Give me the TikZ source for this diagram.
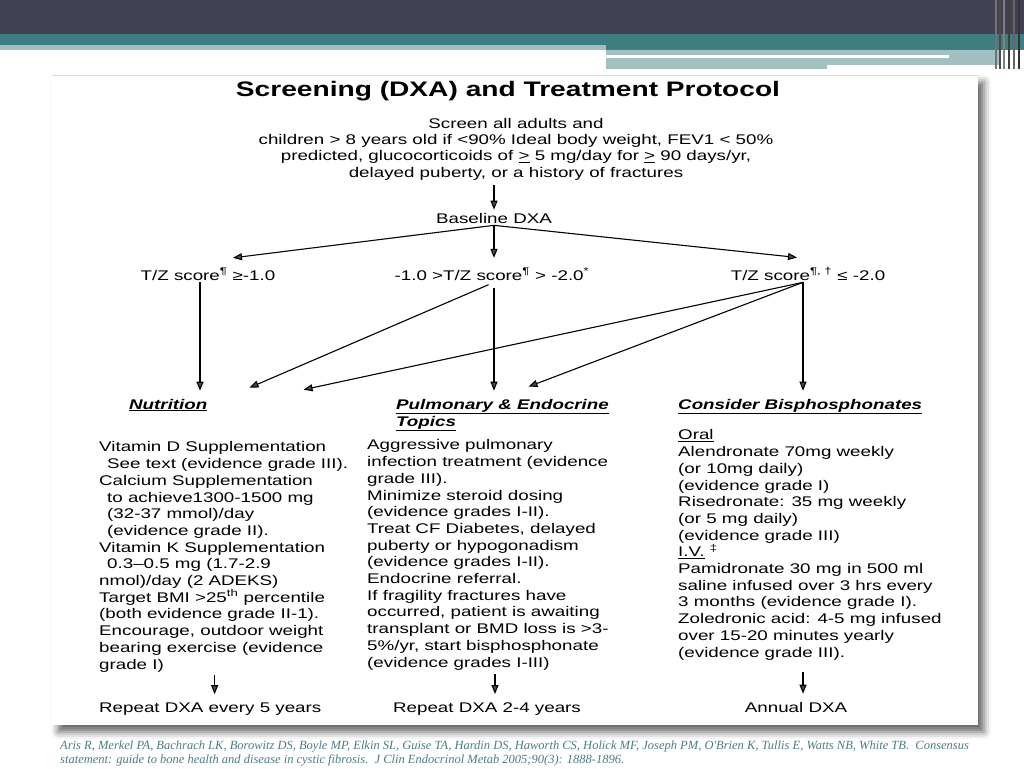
\documentclass[tikz,border=0pt]{standalone}
\usepackage{fontspec}
\usepackage{xcolor}
\usetikzlibrary{arrows.meta, positioning, shadows.blur}
\newfontfamily\diagfont[FakeStretch=1.34]{Liberation Sans}
\newfontfamily\citefont{Liberation Serif}
\definecolor{slidedark}{HTML}{414153}
\definecolor{slideteal}{HTML}{3F7E80}
\definecolor{slidelight}{HTML}{A2BFC1}
\definecolor{citecol}{HTML}{4A7C82}

\begin{document}
\begin{tikzpicture}[
  x=1pt, y=-1pt,
  txt/.style={inner sep=2pt, align=left, anchor=base west,
              font=\diagfont\fontsize{14}{16.7}\selectfont},
  lbl/.style={inner sep=2pt, align=center, anchor=base,
              font=\diagfont\fontsize{14}{16.2}\selectfont},
  head/.style={txt, font=\diagfont\bfseries\itshape\fontsize{14}{17}\selectfont},
  arr/.style={-{Triangle[length=9pt, width=7pt]}, line width=1.1pt}
]
\useasboundingbox (0,0) rectangle (1024,768);

% slide background
\fill[slidedark] (0,0) rectangle (1024,34);
\fill[slideteal] (0,34) rectangle (1024,45);
\fill[slidelight] (0,45) rectangle (606,50);
\fill[slideteal] (606,45) rectangle (1024,50);
\fill[slidelight] (606,50) rectangle (1000,69);
\fill[white] (606,55) rectangle (949,58);
\fill[white] (827,65) rectangle (1000,69);
\foreach \xx/\gg in {996/55, 1000/70, 1004/50, 1009/75, 1014/60, 1019/80}
  \draw[black!\gg, line width=1.2pt] (\xx,0) -- (\xx,69);

% the pasted figure
\fill[white, blur shadow={shadow xshift=6pt, shadow yshift=-7pt,
  shadow blur radius=7pt, shadow opacity=60}] (52,75) rectangle (978,725);
\draw[black!15] (52,75) -- (978,75);

% top part (base of a multi-line node = its last line)
\node[lbl, font=\diagfont\bfseries\fontsize{21}{25}\selectfont] (title) at (508,96)
  {Screening (DXA) and Treatment Protocol};
\node[lbl] (screen) at (516,177)
  {Screen all adults and\\
   children > 8 years old if <90\% Ideal body weight, FEV1 < 50\%\\
   predicted, glucocorticoids of \underline{>} 5 mg/day for \underline{>} 90 days/yr,\\
   delayed puberty, or a history of fractures};
\node[lbl] (baseline) at (494,223) {Baseline DXA};

\node[lbl] (tzlow) at (208,280) {T/Z score\textsuperscript{¶} ≥-1.0};
\node[lbl] (tzmid) at (492,280) {-1.0 >T/Z score\textsuperscript{¶} > -2.0\textsuperscript{*}};
\node[lbl] (tzhigh) at (808,280) {T/Z score\textsuperscript{¶, †} ≤ -2.0};

% headings
\node[head] (hnutr) at (127,409) {\underline{Nutrition}};
\node[head] (hpulm) at (394,426) {\underline{Pulmonary \& Endocrine}\\\underline{Topics}};
\node[head] (hbis) at (676,409) {\underline{Consider Bisphosphonates}};

% columns
\node[txt] (txtnutr) at (97,669)
  {Vitamin D Supplementation\\
   \hspace*{8pt}See text (evidence grade III).\\
   Calcium Supplementation\\
   \hspace*{8pt}to achieve1300-1500 mg\\
   \hspace*{8pt}(32-37 mmol)/day\\
   \hspace*{8pt}(evidence grade II).\\
   Vitamin K Supplementation\\
   \hspace*{8pt}0.3–0.5 mg (1.7-2.9\\
   nmol)/day (2 ADEKS)\\
   Target BMI >25\textsuperscript{th} percentile\\
   (both evidence grade II-1).\\
   Encourage, outdoor weight\\
   bearing exercise (evidence\\
   grade I)};
\node[txt] (txtpulm) at (365,667)
  {Aggressive pulmonary\\
   infection treatment (evidence\\
   grade III).\\
   Minimize steroid dosing\\
   (evidence grades I-II).\\
   Treat CF Diabetes, delayed\\
   puberty or hypogonadism\\
   (evidence grades I-II).\\
   Endocrine referral.\\
   If fragility fractures have\\
   occurred, patient is awaiting\\
   transplant or BMD loss is >3-\\
   5\%/yr, start bisphosphonate\\
   (evidence grades I-III)};
\node[txt] (txtbis) at (676,657)
  {\underline{Oral}\\
   Alendronate 70mg weekly\\
   (or 10mg daily)\\
   (evidence grade I)\\
   Risedronate: 35 mg weekly\\
   (or 5 mg daily)\\
   (evidence grade III)\\
   \underline{I.V.} \textsuperscript{‡}\\
   Pamidronate 30 mg in 500 ml\\
   saline infused over 3 hrs every\\
   3 months (evidence grade I).\\
   Zoledronic acid: 4-5 mg infused\\
   over 15-20 minutes yearly\\
   (evidence grade III).};

% follow-up
\node[txt] (repnutr) at (97,712) {Repeat DXA every 5 years};
\node[lbl] (reppulm) at (487,712) {Repeat DXA 2-4 years};
\node[lbl] (repbis) at (796,712) {Annual DXA};

% connectors
\draw[arr, shorten <=3pt, shorten >=1pt] (screen.south -| baseline) -- (baseline.north);
\draw[arr] (baseline.south) -- ([shift={(25pt,8pt)}]tzlow.north);
\draw[arr] (baseline.south) -- ([shift={(2pt,8pt)}]tzmid.north);
\draw[arr] (baseline.south) -- ([shift={(-11pt,8pt)}]tzhigh.north);

\draw[arr, shorten >=6pt] ([xshift=-8pt]tzlow.south) -- ([xshift=-8pt]tzlow.south |- hnutr.north);
\draw[arr, shorten <=6pt, shorten >=6pt] ([xshift=2pt]tzmid.south) -- ([xshift=2pt]tzmid.south |- hpulm.north);
\draw[arr, shorten <=6pt] ([xshift=2pt]tzmid.south) -- ([shift={(40pt,9pt)}]hnutr.north east);
\draw[arr, shorten >=6pt] ([xshift=-5pt]tzhigh.south) -- ([xshift=-5pt]tzhigh.south |- hbis.north);
\draw[arr] ([xshift=-5pt]tzhigh.south) -- ([shift={(26pt,10pt)}]hpulm.north);
\draw[arr] ([xshift=-5pt]tzhigh.south) -- ([shift={(94pt,7pt)}]hnutr.north east);

\draw[arr, shorten <=1pt, shorten >=6pt] ([xshift=-9pt]txtnutr.south) -- ([xshift=-9pt]txtnutr.south |- repnutr.north);
\draw[arr, shorten <=2pt, shorten >=6pt] ([xshift=8pt]reppulm.north |- txtpulm.south) -- ([xshift=8pt]reppulm.north);
\draw[arr, shorten <=10pt, shorten >=6pt] ([xshift=7pt]repbis.north |- txtbis.south) -- ([xshift=7pt]repbis.north);

% reference
\node[inner sep=0pt, anchor=base west, align=left, text=citecol,
      font=\citefont\itshape\fontsize{12.5}{14}\selectfont] (cite) at (60,763)
  {Aris R, Merkel PA, Bachrach LK, Borowitz DS, Boyle MP, Elkin SL, Guise TA, Hardin DS, Haworth CS, Holick MF, Joseph PM, O'Brien K, Tullis E, Watts NB, White TB.\ \ Consensus\\
   statement: guide to bone health and disease in cystic fibrosis.\ \ J Clin Endocrinol Metab 2005;90(3): 1888-1896.};
\end{tikzpicture}
\end{document}
